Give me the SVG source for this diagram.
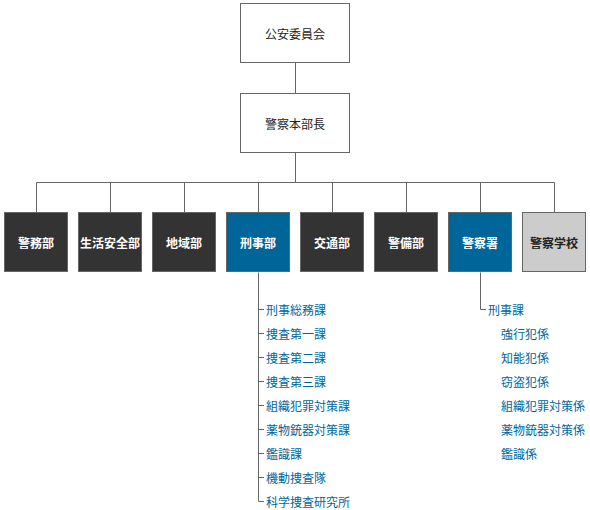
<svg xmlns="http://www.w3.org/2000/svg" width="590" height="510" viewBox="0 0 590 510">
<style>
text{font-family:"Noto Sans CJK JP","Noto Sans CJK SC",sans-serif;font-size:12px}
.top rect{fill:#fff;stroke:#666;stroke-width:1}
.top text{fill:#222;text-anchor:middle;dominant-baseline:central}
.dept rect{stroke:#666;stroke-width:1}
.dept text{fill:#fff;font-weight:bold;text-anchor:middle;dominant-baseline:central}
.dark rect{fill:#333}
.blue rect{fill:#006699}
.gray rect{fill:#ccc}
.gray text{fill:#222}
.sub text{fill:#006699;dominant-baseline:central}
.conn{fill:none;stroke:#666;stroke-width:1}
</style>
<g id="connectors" class="conn">
<path d="M295.5 62.5V93.5"/>
<path d="M295.5 152.5V182.5"/>
<path d="M36.5 212.5V182.5H554.5V212.5"/>
<path d="M110.5 182.5V212.5M184.5 182.5V212.5M258.5 182.5V212.5M332.5 182.5V212.5M406.5 182.5V212.5M480.5 182.5V212.5"/>
<path d="M258.5 272.5V501.5H264"/>
<path d="M258.5 309.5H264M258.5 333.5H264M258.5 357.5H264M258.5 381.5H264M258.5 405.5H264M258.5 429.5H264M258.5 453.5H264M258.5 477.5H264"/>
<path d="M480.5 272.5V309.5H486"/>
</g>
<g id="koan" class="top"><rect x="240.5" y="3.5" width="109" height="59"/><text x="295" y="33">公安委員会</text></g>
<g id="honbucho" class="top"><rect x="240.5" y="93.5" width="109" height="59"/><text x="295" y="123">警察本部長</text></g>
<g id="keimu" class="dept dark"><rect x="4.5" y="212.5" width="63" height="59"/><text x="36" y="242">警務部</text></g>
<g id="seikatsu" class="dept dark"><rect x="78.5" y="212.5" width="63" height="59"/><text x="110" y="242">生活安全部</text></g>
<g id="chiiki" class="dept dark"><rect x="152.5" y="212.5" width="63" height="59"/><text x="184" y="242">地域部</text></g>
<g id="keiji" class="dept blue"><rect x="226.5" y="212.5" width="63" height="59"/><text x="258" y="242">刑事部</text></g>
<g id="kotsu" class="dept dark"><rect x="300.5" y="212.5" width="63" height="59"/><text x="332" y="242">交通部</text></g>
<g id="keibi" class="dept dark"><rect x="374.5" y="212.5" width="63" height="59"/><text x="406" y="242">警備部</text></g>
<g id="keisatsusho" class="dept blue"><rect x="448.5" y="212.5" width="63" height="59"/><text x="480" y="242">警察署</text></g>
<g id="gakko" class="dept gray"><rect x="522.5" y="212.5" width="63" height="59"/><text x="554" y="242">警察学校</text></g>
<g id="keiji-sub" class="sub">
<text x="266" y="309">刑事総務課</text>
<text x="266" y="333">捜査第一課</text>
<text x="266" y="357">捜査第二課</text>
<text x="266" y="381">捜査第三課</text>
<text x="266" y="405">組織犯罪対策課</text>
<text x="266" y="429">薬物銃器対策課</text>
<text x="266" y="453">鑑識課</text>
<text x="266" y="477">機動捜査隊</text>
<text x="266" y="501">科学捜査研究所</text>
</g>
<g id="sho-sub" class="sub">
<text x="488" y="309">刑事課</text>
<text x="501" y="333">強行犯係</text>
<text x="501" y="357">知能犯係</text>
<text x="501" y="381">窃盗犯係</text>
<text x="501" y="405">組織犯罪対策係</text>
<text x="501" y="429">薬物銃器対策係</text>
<text x="501" y="453">鑑識係</text>
</g>
</svg>
